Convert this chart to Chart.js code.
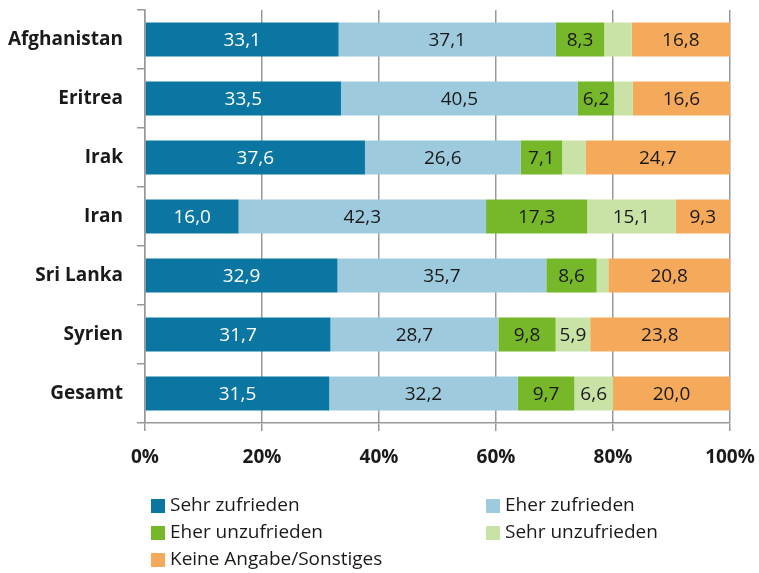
<!DOCTYPE html>
<html><head><meta charset="utf-8">
<script src="https://cdn.jsdelivr.net/npm/chart.js@4/dist/chart.umd.min.js"></script>
<style>html,body{margin:0;padding:0;background:#fff}#wrap{width:759px;height:573px;position:relative}</style>
</head><body><div id="wrap"><canvas id="c" width="759" height="573"></canvas></div>
<script>
const categories = ["Afghanistan","Eritrea","Irak","Iran","Sri Lanka","Syrien","Gesamt"];
const seriesNames = ["Sehr zufrieden","Eher zufrieden","Eher unzufrieden","Sehr unzufrieden","Keine Angabe/Sonstiges"];
const sehrZufrieden   = [33.1,33.5,37.6,16.0,32.9,31.7,31.5];
const eherZufrieden   = [37.1,40.5,26.6,42.3,35.7,28.7,32.2];
const eherUnzufrieden = [8.3,6.2,7.1,17.3,8.6,9.8,9.7];
const sehrUnzufrieden = [4.7,3.2,4.0,15.1,2.0,5.9,6.6];
const keineAngabe     = [16.8,16.6,24.7,9.3,20.8,23.8,20.0];
const xTicks = [0,20,40,60,80,100];
const colors = ["#0b76a2","#9ecadd","#76b82a","#c8e3a5","#f5a95a"];
const labelColors = ["#ffffff","#1a1a1a","#1a1a1a","#1a1a1a","#1a1a1a"];
const FONT = "'Open Sans', sans-serif";

const values = [sehrZufrieden, eherZufrieden, eherUnzufrieden, sehrUnzufrieden, keineAngabe];

const labelPlugin = {
  id:'labels',
  afterDatasetsDraw(chart){
    const ctx = chart.ctx;
    ctx.save();
    ctx.font = "19px " + FONT;
    ctx.textAlign='center'; ctx.textBaseline='middle';
    chart.data.datasets.forEach((ds,di)=>{
      const meta = chart.getDatasetMeta(di);
      meta.data.forEach((bar,i)=>{
        const v = ds.data[i];
        if (v < 5.5) return;
        const cx = (bar.x + bar.base)/2;
        ctx.fillStyle = labelColors[di];
        ctx.fillText(v.toFixed(1).replace('.',','), cx, bar.y+1);
      });
    });
    ctx.restore();
  }
};

const legendPlugin = {
  id:'customLegend',
  afterDraw(chart){
    const ctx = chart.ctx;
    ctx.save();
    ctx.font = "19px " + FONT;
    ctx.textBaseline='middle'; ctx.textAlign='left';
    const pos = [[151,506],[486,506],[151,533],[486,533],[151,560]];
    seriesNames.forEach((n,i)=>{
      const [x,y]=pos[i];
      ctx.fillStyle=colors[i];
      ctx.fillRect(x,y-7,14,14);
      ctx.fillStyle='#1a1a1a';
      ctx.fillText(n,x+19,y);
    });
    ctx.restore();
  }
};

new Chart(document.getElementById('c'),{
  type:'bar',
  data:{
    labels:categories,
    datasets: seriesNames.map((n,i)=>({label:n,data:values[i],backgroundColor:colors[i],borderWidth:0,barPercentage:0.576,categoryPercentage:1}))
  },
  options:{
    indexAxis:'y',
    responsive:false,
    animation:false,
    layout:{padding:{top:10,right:29,left:0,bottom:0}},
    plugins:{legend:{display:false},tooltip:{enabled:false}},
    scales:{
      x:{
        stacked:true,min:0,max:100,
        afterBuildTicks(s){ s.ticks = xTicks.map(v=>({value:v})); },
        afterFit(s){ s.height = 150; s.paddingLeft = 0; s.paddingRight = 0; },
        grid:{color:'#999999',lineWidth:1.5,tickLength:8,drawTicks:true},
        border:{color:'#999999',width:1.5},
        ticks:{font:{family:FONT,size:19,weight:'bold'},color:'#1a1a1a',padding:15,callback:v=>v+'%',maxRotation:0}
      },
      y:{
        stacked:true,
        afterFit(s){ s.width = 145; s.paddingTop = 0; s.paddingBottom = 0; },
        grid:{offset:true,drawOnChartArea:false,color:'#999999',lineWidth:1.5,tickLength:8},
        border:{color:'#999999',width:1.5},
        ticks:{font:{family:FONT,size:19,weight:'bold'},color:'#1a1a1a',padding:14}
      }
    }
  },
  plugins:[labelPlugin,legendPlugin]
});
</script></body></html>
